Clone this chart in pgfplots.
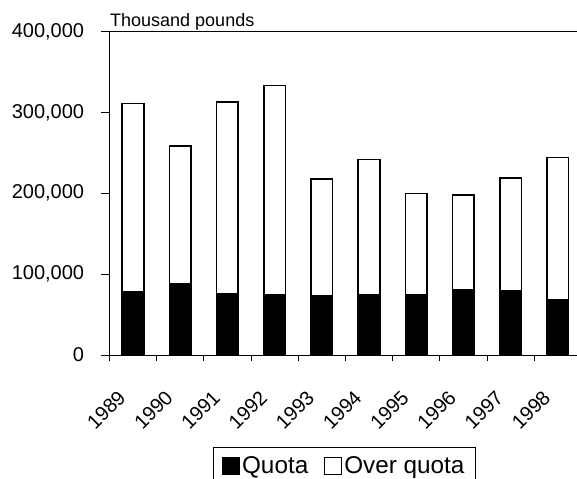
\documentclass[border=0pt]{standalone}
\usepackage{fontspec}
\setmainfont{Liberation Sans}
\usepackage{pgfplots}
\pgfplotsset{compat=1.18}
\newcommand\yr{\fontsize{20bp}{24bp}\selectfont}
\begin{document}
\begin{tikzpicture}
\begin{axis}[
  at={(109.3bp,124bp)}, anchor=south west,
  scale only axis,
  width=472bp, height=323.6bp,
  xmin=-0.5, xmax=9.5,
  ymin=0, ymax=400000,
  ybar stacked,
  bar width=21.6bp,
  axis line style={black, line width=0.8bp},
  tick align=outside,
  xtick pos=bottom, ytick pos=left,
  xtick={0,...,9},
  xticklabels={1989,1990,1991,1992,1993,1994,1995,1996,1997,1998},
  minor xtick={-0.5,0.5,...,8.5},
  major x tick style={draw=none},
  minor x tick style={black, line width=0.8bp},
  minor tick length=6bp,
  major tick length=8bp,
  ytick={0,100000,200000,300000,400000},
  y tick style={black, line width=0.8bp},
  scaled y ticks=false,
  /pgf/number format/fixed,
  /pgf/number format/1000 sep={,},
  /pgf/number format/assume math mode=true,
  tick label style={font=\yr},
  y tick label style={inner sep=0pt, anchor=east, xshift=-17bp},
  x tick label style={xshift=-16bp, yshift=-26bp, rotate=45, anchor=north east, inner sep=0pt},
  legend columns=2,
  legend style={at={(axis description cs:0.2203,-0.2843)}, anchor=north west,
    draw=black, line width=0.8bp, inner xsep=8.4bp, inner ysep=9bp,
    font=\fontsize{24.3bp}{29bp}\selectfont,
    cells={anchor=west},
    nodes={inner xsep=2bp, inner ysep=0bp},
    /tikz/every even column/.append style={column sep=14bp}},
  legend image code/.code={\draw[#1, line width=1bp] (0bp,-8.5bp) rectangle (17bp,8.5bp);},
  clip=false,
]
\addplot[fill=black, draw=black, line width=1.6bp] coordinates {
 (0,78000) (1,88500) (2,76100) (3,74900) (4,73700) (5,74100) (6,74100) (7,81100) (8,79800) (9,68800)};
\addplot[fill=white, draw=black, line width=1.6bp] coordinates {
 (0,232700) (1,169900) (2,236700) (3,258400) (4,143600) (5,167500) (6,125500) (7,116400) (8,138700) (9,175200)};
\legend{Quota,Over quota}
\node[anchor=base west, inner sep=0pt, font=\fontsize{18bp}{22bp}\selectfont] at ([xshift=0.7bp, yshift=4.8bp]rel axis cs:0,1) {Thousand pounds};
\end{axis}
\pgfresetboundingbox
\path[use as bounding box] (0,0) rectangle (577bp,479bp);
\end{tikzpicture}
\end{document}
